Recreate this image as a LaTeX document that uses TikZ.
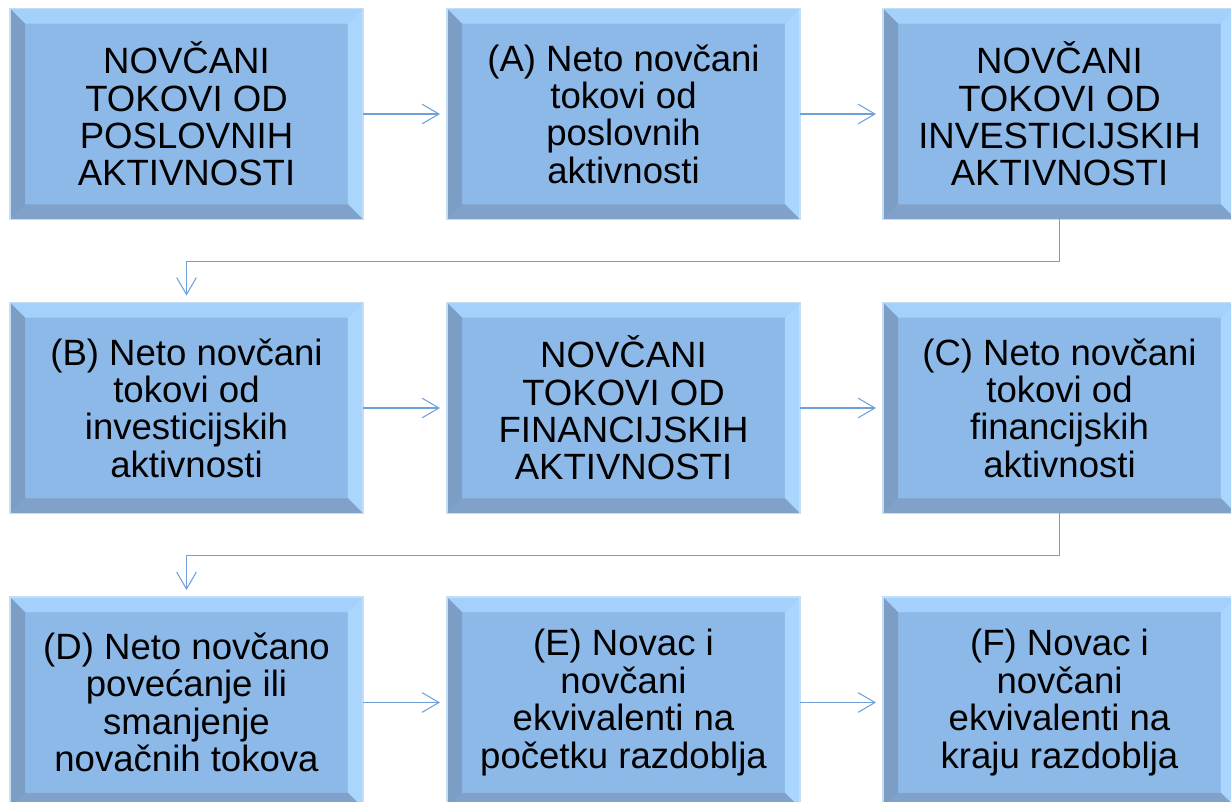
\documentclass[tikz,border=0pt]{standalone}
\usepackage{fontspec}
\setmainfont{Liberation Sans}
\usetikzlibrary{arrows.meta}

\definecolor{boxfill}{RGB}{141,185,233}
\definecolor{bevlight}{RGB}{163,209,252}
\definecolor{bevdark}{RGB}{128,162,202}
\definecolor{boxedge}{RGB}{196,222,246}
\definecolor{linkblue}{RGB}{112,160,218}

\tikzset{
  flowbox/.style={fill=boxfill, outer sep=0pt, inner sep=0pt,
    minimum width=251pt, minimum height=150pt, align=center,
    font=\fontsize{26}{26.6}\selectfont},
  link/.style={draw=linkblue, line width=0.75pt,
    -{Straight Barb[length=12pt,width=14pt]}, shorten >=5pt}
}

\begin{document}
\begin{tikzpicture}[x=0.025cm, y=-0.025cm]
    \useasboundingbox (0,0) rectangle (1231,802);
    \clip (0,0) rectangle (1231,802);

    % Row 1
    \node[flowbox] (posl) at (186.5,114) {NOVČANI\\TOKOVI OD\\POSLOVNIH\\AKTIVNOSTI};
    \node[flowbox] (netoA) at (623.5,114) {(A) Neto novčani\\tokovi od\\poslovnih\\aktivnosti};
    \node[flowbox] (inv) at (1059.5,114) {NOVČANI\\TOKOVI OD\\INVESTICIJSKIH\\AKTIVNOSTI};

    % Row 2
    \node[flowbox] (netoB) at (186.5,408) {(B) Neto novčani\\tokovi od\\investicijskih\\aktivnosti};
    \node[flowbox] (fin) at (623.5,408) {NOVČANI\\TOKOVI OD\\FINANCIJSKIH\\AKTIVNOSTI};
    \node[flowbox] (netoC) at (1059.5,408) {(C) Neto novčani\\tokovi od\\financijskih\\aktivnosti};

    % Row 3
    \node[flowbox] (netoD) at (186.5,702.5) {(D) Neto novčano\\povećanje ili\\smanjenje\\novačnih tokova};
    \node[flowbox] (netoE) at (623.5,702.5) {(E) Novac i\\novčani\\ekvivalenti na\\početku razdoblja};
    \node[flowbox] (netoF) at (1059.5,702.5) {(F) Novac i\\novčani\\ekvivalenti na\\kraju razdoblja};

    % Bevels
    \foreach \n in {posl,netoA,inv,netoB,fin,netoC,netoD,netoE,netoF} {
        \fill[bevlight] (\n.north west) -- (\n.north east)
            -- ([shift={(-10.7pt,-10.7pt)}]\n.north east) -- ([shift={(10.7pt,-10.7pt)}]\n.north west) -- cycle;
        \fill[bevlight!92!white] (\n.north east) -- (\n.south east)
            -- ([shift={(-10.7pt,10.7pt)}]\n.south east) -- ([shift={(-10.7pt,-10.7pt)}]\n.north east) -- cycle;
        \fill[bevdark] (\n.south east) -- (\n.south west)
            -- ([shift={(10.7pt,10.7pt)}]\n.south west) -- ([shift={(-10.7pt,10.7pt)}]\n.south east) -- cycle;
        \fill[bevdark!97!black] (\n.south west) -- (\n.north west)
            -- ([shift={(10.7pt,-10.7pt)}]\n.north west) -- ([shift={(10.7pt,10.7pt)}]\n.south west) -- cycle;
        \draw[boxedge, line width=0.8pt] (\n.north west) rectangle (\n.south east);
    }

    % Arrows within rows
    \foreach \a/\b in {posl/netoA, netoA/inv, netoB/fin, fin/netoC, netoD/netoE, netoE/netoF}
        \draw[link] (\a) -- (\b);

    % Arrows between rows
    \draw[link] (inv.south) -- ++(0,42) -| (netoB.north);
    \draw[link] (netoC.south) -- ++(0,42) -| (netoD.north);
\end{tikzpicture}
\end{document}
